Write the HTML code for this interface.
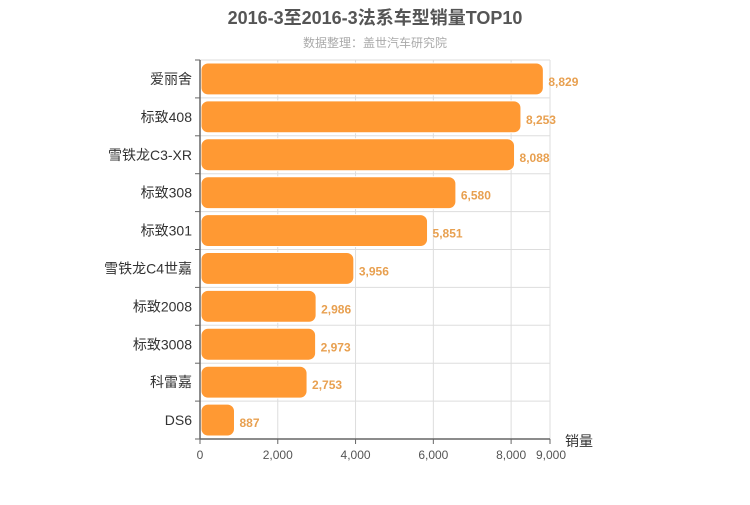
<!DOCTYPE html>
<html><head><meta charset="utf-8"><style>
body{margin:0;background:#fff;}
svg text{font-family:"Liberation Sans","Noto Sans CJK SC",sans-serif;}
</style></head><body>
<svg id="c" width="750" height="500" xmlns="http://www.w3.org/2000/svg">
<text x="375" y="24" text-anchor="middle" font-size="18" font-weight="bold" fill="#555">2016-3至2016-3法系车型销量TOP10</text>
<text x="375" y="47" text-anchor="middle" font-size="12" fill="#aaa">数据整理：盖世汽车研究院</text>
<g id="grid"></g><g id="bars"></g><g id="axes"></g>
</svg>
<script>
const categories=["爱丽舍","标致408","雪铁龙C3-XR","标致308","标致301","雪铁龙C4世嘉","标致2008","标致3008","科雷嘉","DS6"];
const values=[8829,8253,8088,6580,5851,3956,2986,2973,2753,887];
const ticks=[0,2000,4000,6000,8000,9000];
const ns="http://www.w3.org/2000/svg";
const X0=200,X1=550,Y0=60,Y1=439,MAX=9000;
const xs=v=>X0+v/MAX*(X1-X0);
const band=(Y1-Y0)/categories.length;
const ys=i=>Y0+i*band;
function mk(t,a,p){const e=document.createElementNS(ns,t);for(const k in a)e.setAttribute(k,a[k]);p.appendChild(e);return e;}
const grid=document.getElementById('grid'),bars=document.getElementById('bars'),axes=document.getElementById('axes');
ticks.forEach(t=>{
 const l=mk('line',{x1:xs(t),x2:xs(t),y1:Y0,y2:Y1,stroke:'#ddd'},grid);
 
 
 const tk=mk('line',{x1:xs(t),x2:xs(t),y1:Y1,y2:Y1+5,stroke:'#666'},axes);
 
 
 const tx=mk('text',{x:xs(t),y:Y1+20,'text-anchor':t===9000?'start':'middle','font-size':12,fill:'#555'},axes);
 if(t===9000)tx.setAttribute('x',xs(t)-14);
 tx.textContent=t.toLocaleString('en-US');
 
 
});
for(let i=0;i<=categories.length;i++){
 const l=mk('line',{x1:X0,x2:X1,y1:ys(i),y2:ys(i),stroke:'#ddd'},grid);
 
 
 const tk=mk('line',{x1:X0-5,x2:X0,y1:ys(i),y2:ys(i),stroke:'#666'},axes);
 
 
}
categories.forEach((c,i)=>{
 const y=ys(i);
 const r=mk('rect',{x:X0+1,y:y+3,width:Math.max(0,xs(values[i])-X0-1),height:band-6,rx:7,fill:'#ff9933',stroke:'#fff','stroke-width':1},bars);
 
 
 const v=mk('text',{x:xs(values[i])+5,y:y+band/2+7,'font-size':12,'font-weight':'bold',fill:'#e8a050'},bars);
 v.textContent=values[i].toLocaleString('en-US');
 
 
 const t=mk('text',{x:X0-8,y:y+band/2+5,'text-anchor':'end','font-size':14,fill:'#333'},axes);
 t.textContent=c;
 
 
});
const ax=mk('line',{x1:X0,x2:X1,y1:Y1,y2:Y1,stroke:'#666','stroke-width':1.5},axes);


const ay=mk('line',{x1:X0,x2:X0,y1:Y0,y2:Y1,stroke:'#666','stroke-width':1.5},axes);


const at=mk('text',{x:565,y:446,'font-size':14,fill:'#333'},axes);
at.textContent='销量';


</script>
</body></html>
